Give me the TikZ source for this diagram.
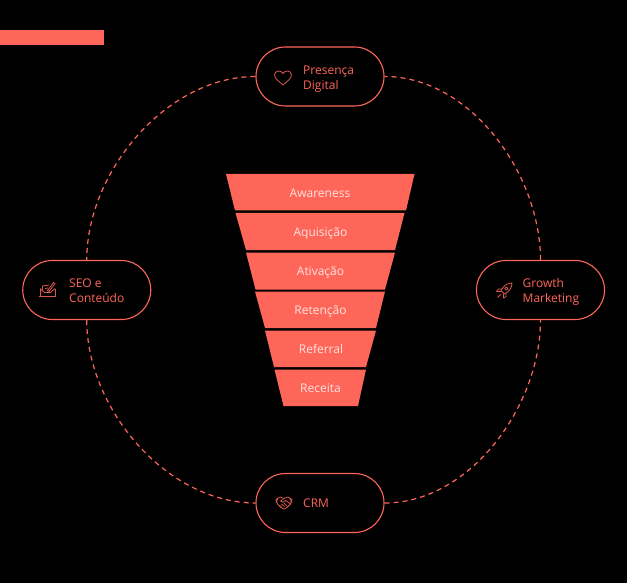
\documentclass[tikz,border=0pt]{standalone}
\usepackage{fontspec}
\setmainfont{Open Sans}
\usepackage{tikz}

\definecolor{coral}{HTML}{FF665A}
\definecolor{coraldim}{HTML}{D9574D}
\definecolor{funneltxt}{HTML}{FFE3DE}

\tikzset{
    pill/.style={shape=rectangle, draw=coral, line width=1.1pt, rounded corners=29.5pt, minimum width=128pt, minimum height=59pt},
    pilltext/.style={anchor=west, inner sep=0pt, align=left, text=coral, font=\fontsize{12}{15}\selectfont},
    funneltext/.style={anchor=base, inner sep=0pt, text=funneltxt, font=\fontsize{12}{15}\selectfont},
    ring/.style={draw=coral, line width=1.2pt, dash pattern=on 5pt off 4pt},
    icon/.style={draw=coraldim, line width=.8pt, line join=round},
    pics/hearticon/.style={code={
        \draw[icon] (0,7) .. controls (-4,3.5) and (-8.5,.5) .. (-8.5,-3) .. controls (-8.5,-5.5) and (-6.5,-7) .. (-4.5,-7) .. controls (-2.5,-7) and (-1,-6) .. (0,-4.5) .. controls (1,-6) and (2.5,-7) .. (4.5,-7) .. controls (6.5,-7) and (8.5,-5.5) .. (8.5,-3) .. controls (8.5,.5) and (4,3.5) .. (0,7) -- cycle;
    }},
    pics/inboxicon/.style={code={
        \draw[icon] (-7.5,-1) -- (-7.5,6.5) -- (7.5,6.5) -- (7.5,-1);
        \draw[icon] (-8.5,7) -- (8.5,7);
        \draw[icon] (-7.5,-1) -- (-3,3) -- (3,3) -- (7.5,-1);
        \draw[icon] (-5,.5) -- (-5,-3.5) -- (1.5,-4.5);
        \draw[icon] (-2.5,-1) -- (.5,-1.5);
        \draw[icon] (0,1) -- (6,-7) -- (7.5,-6) -- (1.5,2) -- cycle;
    }},
    pics/rocketicon/.style={code={
        \draw[icon] (7.5,-7.5) .. controls (3,-7.5) and (-1,-5) .. (-3.5,0) -- (0,3.5) .. controls (5,1) and (7.5,-3) .. (7.5,-7.5) -- cycle;
        \draw[icon] (-2.5,-1.5) -- (-6,-1.5) -- (-8,1) -- (-3.5,1);
        \draw[icon] (1.5,2.5) -- (1.5,6) -- (-1,7.5) -- (-1,3);
        \draw[icon] (1.8,-2) circle (1.7);
        \draw[icon] (-4,4) -- (-7,7);
    }},
    pics/handicon/.style={code={
        \draw[icon] (-8,-3.5) -- (-4,-6) -- (0,-4.5) -- (4,-6) -- (8,-3.5) -- (6.5,1) -- (3,4.5) -- (0,6) -- (-3,4.5) -- (-6.5,1) -- cycle;
        \draw[icon] (0,-4.5) -- (-3.5,-2) -- (-1,-.8) -- (1.5,-2.5) -- (6.5,1);
        \draw[icon] (-6,-4.8) -- (-8,0);
        \draw[icon] (6,-4.8) -- (8,0);
        \draw[icon] (-4.5,2.5) -- (-2,4.5);
        \draw[icon] (-2.5,1) -- (.5,3.5);
        \draw[icon] (0,0) -- (2.5,2.5);
    }},
}

\begin{document}
\begin{tikzpicture}[x=1pt, y=-1pt]
    \useasboundingbox[fill=black] (0,0) rectangle (627,583);
    \fill[coral] (0,30) rectangle (104,45.5);

    \node[pill] at (320,76.5) (presenca) {};
    \node[pill] at (86.75,290) (seo) {};
    \node[pill] at (540.5,290) (growth) {};
    \node[pill] at (320,503) (crm) {};

    \path[ring] (presenca.west) to[out=180, in=90, looseness=.91] (seo.north);
    \path[ring] (seo.south) to[out=270, in=180, looseness=.91] (crm.west);
    \path[ring] (crm.east) to[out=0, in=270, looseness=.91] (growth.south);
    \path[ring] (growth.north) to[out=90, in=0, looseness=.91] (presenca.east);

    \pic at (283,78) {hearticon};
    \pic at (47.5,289.5) {inboxicon};
    \pic at (504.5,290.5) {rocketicon};
    \pic at (284,503) {handicon};

    \node[pilltext] at (303,79.5) (presencatext) {Presença\\Digital};
    \node[pilltext] at (69,290.5) (seotext) {SEO e\\Conteúdo};
    \node[pilltext] at (522.5,291.5) (growthtext) {Growth\\Marketing};
    \node[pilltext] at (303,503) (crmtext) {CRM};

    \fill[coral] (226,174) -- (414.5,174) -- (406,210.5) -- (235,210.5) -- cycle;
    \fill[coral] (235.5,213) -- (404.5,213) -- (395,250) -- (246,250) -- cycle;
    \fill[coral] (246,252.5) -- (395,252.5) -- (385,289.5) -- (255.5,289.5) -- cycle;
    \fill[coral] (255,291.5) -- (385,291.5) -- (376,328) -- (265,328) -- cycle;
    \fill[coral] (265,330.5) -- (376,330.5) -- (366,367) -- (274,367) -- cycle;
    \fill[coral] (274.5,369.5) -- (366,369.5) -- (358,406) -- (283.5,406) -- cycle;

    \node[funneltext] at (320,197) (awareness) {Awareness};
    \node[funneltext] at (320.5,236.5) (aquisicao) {Aquisição};
    \node[funneltext] at (320.5,275) (ativacao) {Ativação};
    \node[funneltext] at (320.5,314) (retencao) {Retenção};
    \node[funneltext] at (321,353) (referral) {Referral};
    \node[funneltext] at (320.5,392) (receita) {Receita};
\end{tikzpicture}
\end{document}
